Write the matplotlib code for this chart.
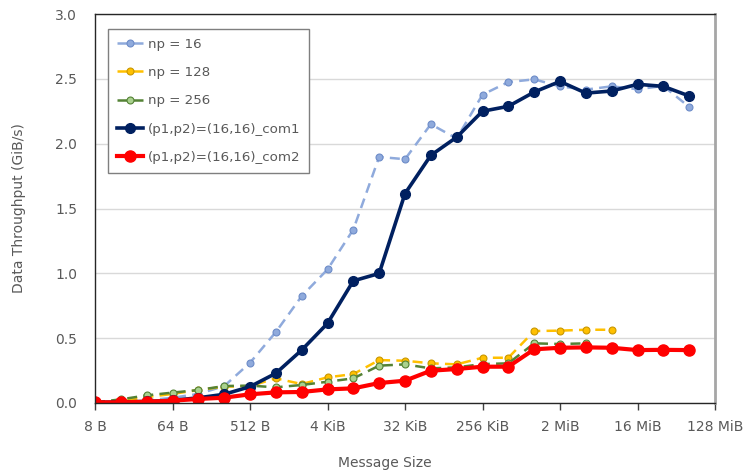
import matplotlib.pyplot as plt

# message sizes in bytes (8 B .. 64 MiB)
sizes = [8, 16, 32, 64, 128, 256, 512, 1024, 2048, 4096, 8192, 16384,
         32768, 65536, 131072, 262144, 524288, 1048576, 2097152, 4194304,
         8388608, 16777216, 33554432, 67108864]

np16 = [0.005, 0.01, 0.02, 0.04, 0.07, 0.13, 0.31, 0.547, 0.824, 1.03,
        1.338, 1.898, 1.88, 2.15, 2.04, 2.378, 2.475, 2.496, 2.442, 2.417,
        2.442, 2.42, 2.445, 2.283]
np128 = [0.005, 0.018, 0.045, 0.07, 0.1, 0.126, 0.13, 0.19, 0.146, 0.198,
         0.223, 0.331, 0.326, 0.306, 0.298, 0.349, 0.349, 0.555, 0.558, 0.565,
         0.565]
np256 = [0.005, 0.028, 0.059, 0.08, 0.1, 0.131, 0.134, 0.121, 0.139, 0.164,
         0.19, 0.288, 0.298, 0.267, 0.275, 0.30, 0.306, 0.46, 0.455, 0.46]
com1 = [0.005, 0.008, 0.012, 0.02, 0.04, 0.067, 0.126, 0.229, 0.408, 0.614,
        0.942, 0.999, 1.615, 1.91, 2.05, 2.25, 2.288, 2.398, 2.48, 2.39,
        2.406, 2.458, 2.442, 2.368]
com2 = [0.005, 0.005, 0.01, 0.018, 0.031, 0.041, 0.067, 0.082, 0.085, 0.105,
        0.113, 0.154, 0.172, 0.249, 0.262, 0.28, 0.28, 0.414, 0.426, 0.429,
        0.426, 0.408, 0.41, 0.408]

tick_pos = [8, 64, 512, 4096, 32768, 262144, 2097152, 16777216, 134217728]
tick_labels = ["8 B", "64 B", "512 B", "4 KiB", "32 KiB", "256 KiB",
               "2 MiB", "16 MiB", "128 MiB"]

grey = "#595959"
plt.rcParams["font.family"] = "DejaVu Sans"

fig = plt.figure(figsize=(7.44, 4.72), dpi=100)
ax = fig.add_axes([95 / 744, 1 - 403 / 472, 620 / 744, 389 / 472])

ax.plot(sizes[:len(np16)], np16, ls=(0, (4, 2.5)), lw=1.8, color="#8FAADC",
        marker="o", ms=5, mfc="#8FAADC", mec="#6D8CC8", mew=0.8, label="np = 16")
ax.plot(sizes[:len(np128)], np128, ls=(0, (4, 2.5)), lw=1.8, color="#FFC000",
        marker="o", ms=5, mfc="#FFC000", mec="#C99700", mew=0.8, label="np = 128")
ax.plot(sizes[:len(np256)], np256, ls=(0, (4, 2.5)), lw=1.8, color="#548235",
        marker="o", ms=5, mfc="#A9D18E", mec="#548235", mew=0.8, label="np = 256")
ax.plot(sizes[:len(com1)], com1, ls="-", lw=2.6, color="#002060",
        marker="o", ms=7, mfc="#002060", mec="#002060",
        label="(p1,p2)=(16,16)_com1")
ax.plot(sizes[:len(com2)], com2, ls="-", lw=3.0, color="#FF0000",
        marker="o", ms=8, mfc="#FF0000", mec="#FF0000",
        label="(p1,p2)=(16,16)_com2")

ax.set_xscale("log", base=2)
ax.set_xlim(8, 134217728)
ax.set_ylim(0, 3.0)
ax.set_xticks(tick_pos)
ax.set_xticklabels(tick_labels)
ax.minorticks_off()
ax.set_yticks([0, 0.5, 1.0, 1.5, 2.0, 2.5, 3.0])
ax.set_yticklabels(["0.0", "0.5", "1.0", "1.5", "2.0", "2.5", "3.0"])

ax.grid(axis="y", color="#D9D9D9", lw=1)
ax.set_axisbelow(True)
ax.tick_params(axis="x", direction="out", length=5, width=1, color="#404040",
               labelsize=10, labelcolor=grey, pad=7)
ax.tick_params(axis="y", length=0, labelsize=10, labelcolor=grey, pad=13)

for side in ["left", "bottom", "top"]:
    ax.spines[side].set_color("#262626")
    ax.spines[side].set_linewidth(1)
ax.spines["right"].set_color("#A6A6A6")
ax.spines["right"].set_linewidth(2)

ax.set_xlabel("Message Size", fontsize=10, color=grey, labelpad=16, x=0.468)
ax.set_ylabel("Data Throughput (GiB/s)", fontsize=10, color=grey, labelpad=21)

# legend sits inside the plot, top-left
leg = ax.legend(loc="upper left", bbox_to_anchor=(108 / 744, 1 - 29 / 472),
                bbox_transform=fig.transFigure, fontsize=9.6, frameon=True,
                fancybox=False, edgecolor="#7F7F7F", framealpha=1,
                labelspacing=1.15, handlelength=2.0, handletextpad=0.35,
                borderpad=0.65, borderaxespad=0)
leg.get_frame().set_linewidth(1)
for t in leg.get_texts():
    t.set_color(grey)

fig.savefig("out.png", dpi=100)
